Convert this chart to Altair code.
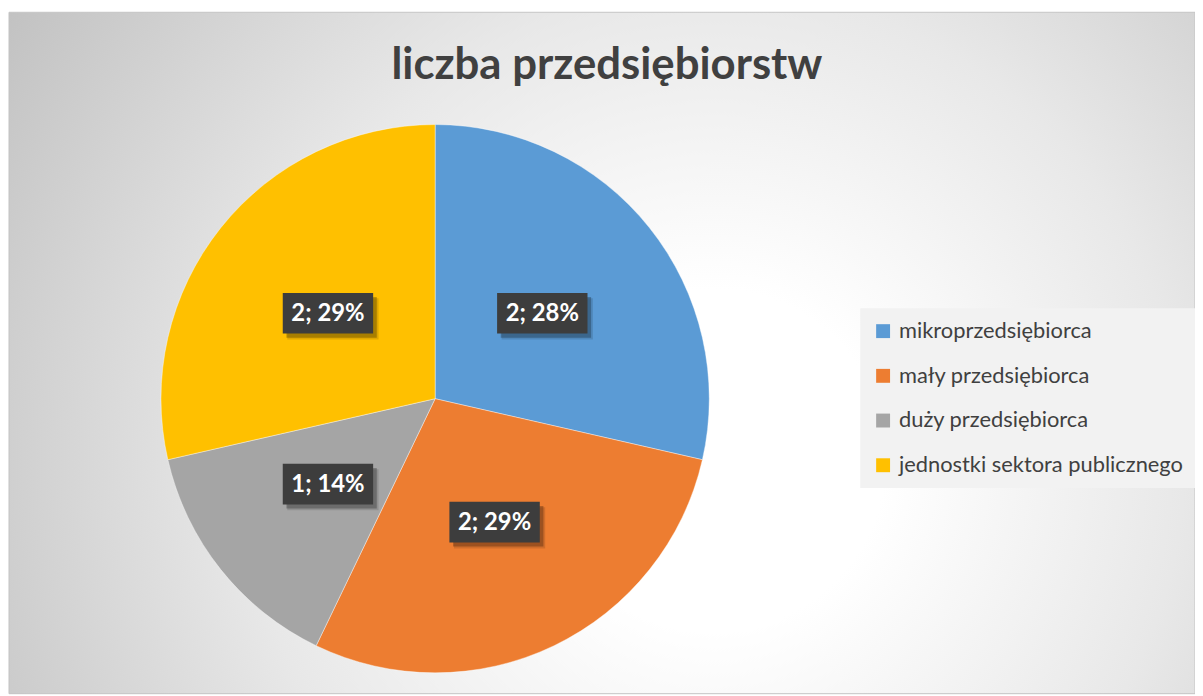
import altair as alt
import pandas as pd

# ---- data ----
categories = ["mikroprzedsiębiorca", "mały przedsiębiorca", "duży przedsiębiorca",
              "jednostki sektora publicznego"]
values = [2, 2, 1, 2]
pct_labels = ["28%", "29%", "14%", "29%"]
colors = ["#5B9BD5", "#ED7D31", "#A5A5A5", "#FFC000"]
title_text = "liczba przedsiębiorstw"

df = pd.DataFrame({"kategoria": categories, "liczba": values,
                   "procent": pct_labels, "idx": list(range(len(categories)))})

W, H = 1195, 688
CX, CY, R = 430, 391, 276

gradient = {
    "gradient": "radial",
    "x1": 0.595, "y1": 0.59, "r1": 0,
    "x2": 0.595, "y2": 0.59, "r2": 0.72,
    "stops": [
        {"offset": 0.0, "color": "#ffffff"},
        {"offset": 0.2, "color": "#ffffff"},
        {"offset": 0.55, "color": "#e8e8e8"},
        {"offset": 1.0, "color": "#c0c0c0"},
    ],
}

one = alt.Data(values=[{}])

bg = alt.Chart(one).mark_rect(fill=gradient, stroke="#c4c4c4", strokeWidth=1).encode(
    x=alt.value(1), x2=alt.value(W), y=alt.value(2), y2=alt.value(H)
)

pie = alt.Chart(df).mark_arc(outerRadius=R, stroke="#ffffff", strokeWidth=0.4).encode(
    theta=alt.Theta("liczba:Q", stack=True),
    color=alt.Color(
        "kategoria:N",
        scale=alt.Scale(domain=categories, range=colors),
        sort=categories,
        legend=alt.Legend(
            title=None, orient="none", legendX=858, legendY=300,
            symbolType="square", symbolSize=196, symbolStrokeWidth=0,
            symbolOpacity=1,
            labelFont="Lato", labelFontSize=22, labelColor="#404040",
            labelOffset=5, rowPadding=23, padding=12,
            fillColor="#f2f2f2", labelLimit=400,
        ),
    ),
    order=alt.Order("idx:Q"),
    x=alt.value(CX), y=alt.value(CY),
)

labels = alt.Chart(df).transform_window(
    cum="sum(liczba)", sort=[alt.SortField("idx")], frame=[None, 0]
).transform_joinaggregate(
    total="sum(liczba)"
).transform_calculate(
    mid="(datum.cum - datum.liczba / 2) / datum.total * 2 * PI",
    lx="0.5 * sin(datum.mid)",
    ly="-0.5 * cos(datum.mid)",
    label="datum.liczba + '; ' + datum.procent",
)

xs = alt.X("lx:Q", scale=alt.Scale(domain=[-1, 1], range=[CX - R, CX + R]), axis=None)
ys = alt.Y("ly:Q", scale=alt.Scale(domain=[-1, 1], range=[CY - R, CY + R]), axis=None)

box_path = "M-1,-0.45L1,-0.45L1,0.45L-1,0.45Z"
shadow_path = "M-0.92,-0.36L1.08,-0.36L1.08,0.54L-0.92,0.54Z"
shadow_path2 = "M-0.9,-0.33L1.12,-0.33L1.12,0.58L-0.9,0.58Z"

shadow2 = labels.mark_point(shape=shadow_path2, size=8281, filled=True,
                            color="#000000", opacity=0.12, strokeWidth=0).encode(x=xs, y=ys)
shadow = labels.mark_point(shape=shadow_path, size=8281, filled=True,
                           color="#000000", opacity=0.25, strokeWidth=0).encode(x=xs, y=ys)
box = labels.mark_point(shape=box_path, size=8281, filled=True,
                        color="#3d3d3d", opacity=1, strokeWidth=0).encode(x=xs, y=ys)
text = labels.mark_text(font="Lato", fontWeight="bold", fontSize=24,
                        color="#ffffff", baseline="middle", dy=1).encode(
    x=xs, y=ys, text="label:N"
)

title = alt.Chart(one).mark_text(
    text=title_text, font="Lato", fontSize=44, fontWeight="bold",
    color="#404040", baseline="alphabetic", align="center"
).encode(x=alt.value(603), y=alt.value(69))

chart = alt.layer(bg, pie, shadow2, shadow, box, text, title).properties(
    width=W, height=H, padding=0, autosize="none", background="#ffffff"
).configure_view(stroke=None)

chart.save("out.html", embed_options={"renderer": "svg", "actions": False})
